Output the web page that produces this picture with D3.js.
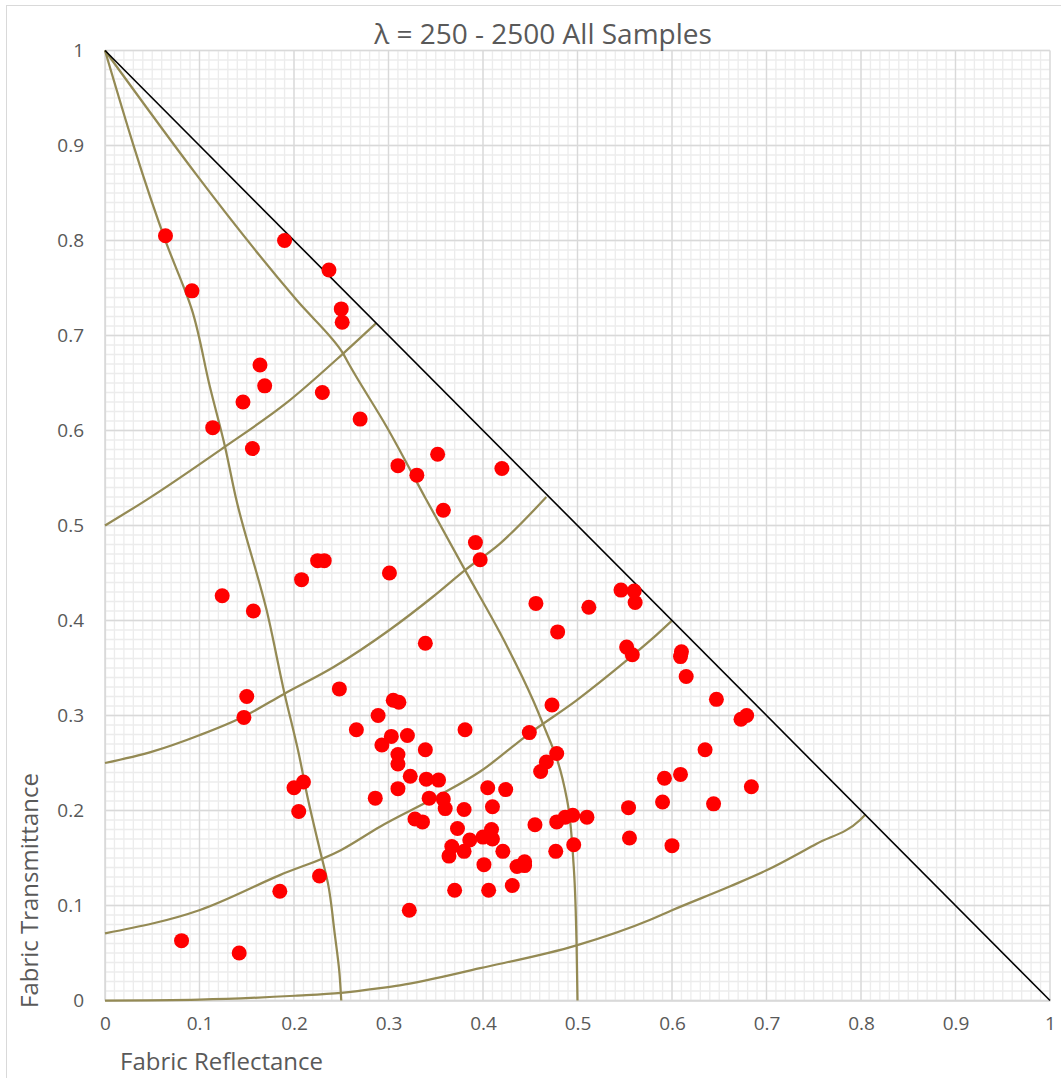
<!DOCTYPE html>
<html>
<head>
<meta charset="utf-8">
<script src="https://cdn.jsdelivr.net/npm/d3@7"></script>
<style>
  body { margin: 0; background: #fff; }
  text { font-family: "Open Sans", sans-serif; fill: #595959; }
</style>
</head>
<body>
<div id="chart_area"></div>
<script>
// measured samples: [reflectance, transmittance]
var samples = [
    [0.064, 0.805], [0.092, 0.747], [0.190, 0.800], [0.237, 0.769], [0.250, 0.728],
    [0.251, 0.714], [0.164, 0.669], [0.169, 0.647], [0.146, 0.630], [0.230, 0.640],
    [0.114, 0.603], [0.156, 0.581], [0.270, 0.612], [0.310, 0.563], [0.330, 0.553],
    [0.352, 0.575], [0.420, 0.560], [0.358, 0.516], [0.392, 0.482], [0.397, 0.464],
    [0.225, 0.463], [0.232, 0.463], [0.208, 0.443], [0.301, 0.450], [0.124, 0.426],
    [0.157, 0.410], [0.456, 0.418], [0.339, 0.376], [0.150, 0.320], [0.147, 0.298],
    [0.248, 0.328], [0.305, 0.316], [0.311, 0.314], [0.289, 0.300], [0.266, 0.285],
    [0.303, 0.278], [0.293, 0.269], [0.320, 0.279], [0.381, 0.285], [0.449, 0.282],
    [0.339, 0.264], [0.310, 0.259], [0.310, 0.249], [0.473, 0.311], [0.478, 0.260],
    [0.467, 0.251], [0.461, 0.241], [0.210, 0.230], [0.200, 0.224], [0.323, 0.236],
    [0.340, 0.233], [0.353, 0.232], [0.310, 0.223], [0.405, 0.224], [0.424, 0.222],
    [0.286, 0.213], [0.343, 0.213], [0.358, 0.212], [0.360, 0.202], [0.205, 0.199],
    [0.410, 0.204], [0.380, 0.201], [0.328, 0.191], [0.336, 0.188], [0.373, 0.181],
    [0.409, 0.180], [0.400, 0.172], [0.410, 0.170], [0.386, 0.169], [0.367, 0.162],
    [0.364, 0.152], [0.380, 0.157], [0.421, 0.157], [0.401, 0.143], [0.444, 0.146],
    [0.444, 0.142], [0.436, 0.141], [0.370, 0.116], [0.406, 0.116], [0.431, 0.121],
    [0.322, 0.095], [0.455, 0.185], [0.478, 0.188], [0.487, 0.193], [0.495, 0.195],
    [0.510, 0.193], [0.477, 0.157], [0.496, 0.164], [0.635, 0.264], [0.647, 0.317],
    [0.592, 0.234], [0.609, 0.238], [0.590, 0.209], [0.644, 0.207], [0.554, 0.203],
    [0.555, 0.171], [0.600, 0.163], [0.546, 0.432], [0.560, 0.431], [0.561, 0.419],
    [0.512, 0.414], [0.479, 0.388], [0.552, 0.372], [0.558, 0.364], [0.610, 0.367],
    [0.609, 0.362], [0.615, 0.341], [0.679, 0.300], [0.673, 0.296], [0.684, 0.225],
    [0.081, 0.063], [0.142, 0.050], [0.185, 0.115], [0.227, 0.131]
];

// reference curves
var rInf25 = [[0, 1], [0.065, 0.797], [0.092, 0.727], [0.111, 0.646],
    [0.127, 0.583], [0.139, 0.527], [0.171, 0.411], [0.190, 0.323], [0.205, 0.260],
    [0.215, 0.211], [0.2275, 0.158], [0.236, 0.123], [0.243, 0.071], [0.248, 0.03], [0.25, 0]];
var rInf50 = [[0, 1], [0.203, 0.737], [0.252, 0.681], [0.2575, 0.671],
    [0.298, 0.604], [0.339, 0.529], [0.381, 0.453], [0.418, 0.387], [0.453, 0.316],
    [0.466, 0.285], [0.478, 0.255], [0.489, 0.211], [0.496, 0.141], [0.499, 0.060], [0.5, 0]];
var cross1 = [[0, 0.5], [0.044, 0.527], [0.127, 0.583], [0.192, 0.629], [0.252, 0.681], [0.287, 0.713]];
var cross2 = [[0, 0.25], [0.05, 0.262], [0.1005, 0.2795], [0.147, 0.299], [0.190, 0.323],
    [0.242, 0.351], [0.301, 0.390], [0.347, 0.425], [0.381, 0.453], [0.418, 0.481], [0.467, 0.530]];
var cross3 = [[0, 0.0707], [0.1005, 0.0953], [0.185, 0.132], [0.249, 0.158], [0.291, 0.183],
    [0.351, 0.2145], [0.397, 0.241], [0.449, 0.281], [0.499, 0.316], [0.552, 0.358],
    [0.577, 0.379], [0.600, 0.400]];
var cross4 = [[0, 0], [0.1, 0.001], [0.201, 0.005], [0.25, 0.008], [0.291, 0.013],
    [0.312, 0.016], [0.397, 0.034], [0.499, 0.058], [0.577, 0.085], [0.600, 0.095],
    [0.661, 0.120], [0.700, 0.137], [0.753, 0.165], [0.799, 0.190], [0.805, 0.196]];
var limitLine = [[0, 1], [1, 0]];

var tickValues = [0, 0.1, 0.2, 0.3, 0.4, 0.5, 0.6, 0.7, 0.8, 0.9, 1];
var minorValues = d3.range(0, 101).map(function (i) { return i / 100; });

var width = 1061, height = 1078;
var plotLeft = 105, plotRight = 1050, plotTop = 50.5, plotBottom = 1000.5;

var x = d3.scaleLinear().domain([0, 1]).range([plotLeft, plotRight]);
var y = d3.scaleLinear().domain([0, 1]).range([plotBottom, plotTop]);

var svg = d3.select("#chart_area")
    .append("svg")
    .attr("width", width)
    .attr("height", height);

svg.append("rect")
    .attr("x", 6.5).attr("y", 5.5)
    .attr("width", width + 10).attr("height", height + 10)
    .attr("fill", "#fff")
    .attr("stroke", "#d9d9d9");

// minor grid
var grid = svg.append("g");
grid.selectAll(".vmin").data(minorValues).enter().append("line")
    .attr("x1", function (d) { return x(d); }).attr("x2", function (d) { return x(d); })
    .attr("y1", plotTop).attr("y2", plotBottom)
    .attr("stroke", "#ececec").attr("stroke-width", 1.3);
grid.selectAll(".hmin").data(minorValues).enter().append("line")
    .attr("y1", function (d) { return y(d); }).attr("y2", function (d) { return y(d); })
    .attr("x1", plotLeft).attr("x2", plotRight)
    .attr("stroke", "#ececec").attr("stroke-width", 1.3);

// major grid
grid.selectAll(".vmaj").data(tickValues).enter().append("line")
    .attr("x1", function (d) { return x(d); }).attr("x2", function (d) { return x(d); })
    .attr("y1", plotTop).attr("y2", plotBottom)
    .attr("stroke", "#d9d9d9").attr("stroke-width", 1.3);
grid.selectAll(".hmaj").data(tickValues).enter().append("line")
    .attr("y1", function (d) { return y(d); }).attr("y2", function (d) { return y(d); })
    .attr("x1", plotLeft).attr("x2", plotRight)
    .attr("stroke", "#d9d9d9").attr("stroke-width", 1.3);

// axes labels
var xAxis = d3.axisBottom(x).tickValues(tickValues).tickSize(0).tickPadding(16)
    .tickFormat(d3.format("~g"));
var yAxis = d3.axisLeft(y).tickValues(tickValues).tickSize(0).tickPadding(21)
    .tickFormat(d3.format("~g"));

var gx = svg.append("g").attr("transform", "translate(0," + plotBottom + ")").call(xAxis);
var gy = svg.append("g").attr("transform", "translate(" + plotLeft + ",0)").call(yAxis);
[gx, gy].forEach(function (g) {
    g.select(".domain").attr("stroke", "#d9d9d9").attr("stroke-width", 1.3);
    g.selectAll("text")
        .attr("font-family", "Open Sans")
        .attr("font-size", 19)
        .attr("fill", "#595959");
});

var lineY = d3.line()
    .x(function (d) { return x(d[0]); })
    .y(function (d) { return y(d[1]); })
    .curve(d3.curveMonotoneY);
var lineX = d3.line()
    .x(function (d) { return x(d[0]); })
    .y(function (d) { return y(d[1]); })
    .curve(d3.curveMonotoneX);

[rInf25, rInf50].forEach(function (c) {
    svg.append("path")
        .datum(c.slice().reverse())
        .attr("d", lineY)
        .attr("fill", "none")
        .attr("stroke", "#948A54")
        .attr("stroke-width", 2.25);
});
[cross1, cross2, cross3, cross4].forEach(function (c) {
    svg.append("path")
        .datum(c)
        .attr("d", lineX)
        .attr("fill", "none")
        .attr("stroke", "#948A54")
        .attr("stroke-width", 2.25);
});

svg.append("path")
    .datum(limitLine)
    .attr("d", d3.line().x(function (d) { return x(d[0]); }).y(function (d) { return y(d[1]); }))
    .attr("fill", "none")
    .attr("stroke", "#000")
    .attr("stroke-width", 1.6);

svg.append("g").selectAll("circle")
    .data(samples)
    .enter()
    .append("circle")
    .attr("cx", function (d) { return x(d[0]); })
    .attr("cy", function (d) { return y(d[1]); })
    .attr("r", 7.5)
    .attr("fill", "#ff0000");

svg.append("text")
    .attr("x", 543)
    .attr("y", 44)
    .attr("text-anchor", "middle")
    .attr("font-size", 28)
    .text("λ = 250 - 2500 All Samples");

svg.append("text")
    .attr("x", 120)
    .attr("y", 1070)
    .attr("font-size", 24)
    .text("Fabric Reflectance");

svg.append("text")
    .attr("transform", "translate(38,1008) rotate(-90)")
    .attr("font-size", 24)
    .text("Fabric Transmittance");
</script>
</body>
</html>
